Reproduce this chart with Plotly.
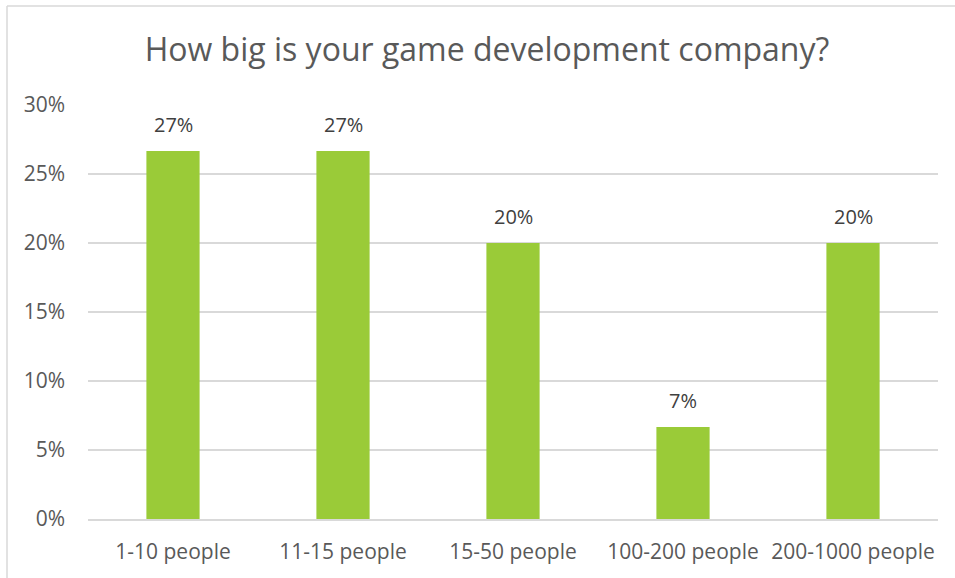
import plotly.graph_objects as go

# Company size categories and share of respondents
categories = ["1-10 people", "11-15 people", "15-50 people", "100-200 people", "200-1000 people"]
shares = [4 / 15, 4 / 15, 3 / 15, 1 / 15, 3 / 15]
y_ticks = [0, 0.05, 0.10, 0.15, 0.20, 0.25, 0.30]
y_tick_labels = ["0%", "5%", "10%", "15%", "20%", "25%", "30%"]

W, H = 955, 578
ML, MR, MT, MB = 88, 17, 105, 59
pw, ph = W - ML - MR, H - MT - MB

def px_x(x):
    return (x - ML) / pw

def px_y(y):
    return (H - MB - y) / ph

fig = go.Figure(
    go.Bar(
        x=categories,
        y=shares,
        marker=dict(color="#9ACB38", line=dict(width=0)),
        hovertemplate="%{x}: %{y:.0%}<extra></extra>",
    )
)

# value labels sitting above each bar
for cat, val in zip(categories, shares):
    fig.add_annotation(
        x=cat, y=val, xref="x", yref="y",
        text=f"{val:.0%}",
        showarrow=False,
        yanchor="bottom",
        yshift=11,
        font=dict(family="Open Sans", size=20, color="#404040"),
    )

# light frame along the top and left edges of the chart area
fig.add_shape(type="line", xref="paper", yref="paper",
              x0=px_x(7), x1=px_x(W + 5), y0=px_y(6), y1=px_y(6),
              line=dict(color="#D9D9D9", width=1.5))
fig.add_shape(type="line", xref="paper", yref="paper",
              x0=px_x(7), x1=px_x(7), y0=px_y(6), y1=px_y(H + 5),
              line=dict(color="#D9D9D9", width=1.5))

fig.update_layout(
    width=W,
    height=H,
    margin=dict(l=ML, r=MR, t=MT, b=MB),
    paper_bgcolor="white",
    plot_bgcolor="white",
    bargap=0.687,
    showlegend=False,
    font=dict(family="Open Sans", color="#595959"),
    title=dict(
        text="How big is your game development company?",
        x=487 / W,
        xanchor="center",
        y=1 - 50 / H,
        yanchor="middle",
        font=dict(family="Open Sans", size=32, color="#595959"),
    ),
    xaxis=dict(
        showgrid=False,
        showline=True,
        linecolor="#D9D9D9",
        linewidth=1.5,
        ticks="",
        ticklabelstandoff=13,
        tickfont=dict(family="Open Sans", size=21, color="#595959"),
    ),
    yaxis=dict(
        range=[0, 0.30],
        tickvals=y_ticks,
        ticktext=y_tick_labels,
        showgrid=True,
        gridcolor="#D9D9D9",
        gridwidth=1.5,
        zeroline=False,
        showline=False,
        ticks="",
        ticklabelstandoff=22,
        tickfont=dict(family="Open Sans", size=21, color="#595959"),
    ),
)

fig.write_html("out.html")
